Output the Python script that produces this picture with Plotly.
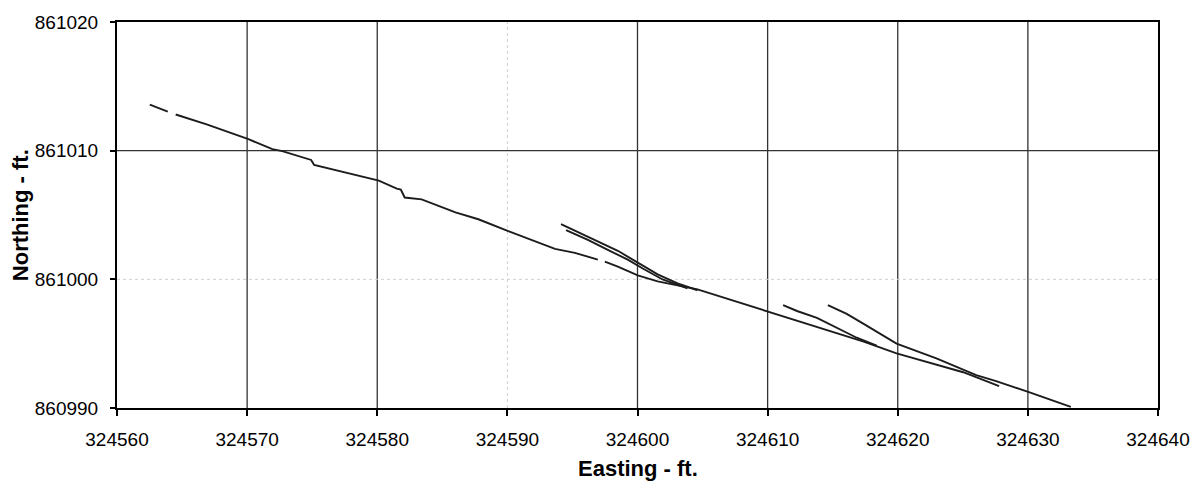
import plotly.graph_objects as go

# ---- axis ticks ----
x_ticks = [324560, 324570, 324580, 324590, 324600, 324610, 324620, 324630, 324640]
y_ticks = [860990, 861000, 861010, 861020]
x_faint_grid = [324590]
y_faint_grid = [861000]

# ---- survey track passes (Easting, Northing in ft) ----
pass_main_e = [324562.52, 324563.90, None, 324564.51, 324566.89, 324570.10, 324571.94, 324572.70,
               324574.54, 324574.92, 324575.15, 324577.06, 324580.12, 324581.50, 324581.81,
               324582.11, 324583.41, 324586.01, 324587.77, 324590.07, 324591.83, 324593.66,
               324595.19, 324596.95, None, 324597.49, 324598.49, 324600.02, 324601.55,
               324604.61, 324609.96, 324612.26, 324614.78, 324617.38, 324619.91, 324622.43,
               324625.03, 324627.79]
pass_main_n = [861013.58, 861013.04, None, 861012.81, 861012.04, 861010.89, 861010.12, 861009.97,
               861009.36, 861009.28, 861008.89, 861008.43, 861007.67, 861007.05, 861006.98,
               861006.36, 861006.21, 861005.21, 861004.67, 861003.75, 861003.06, 861002.37,
               861002.06, 861001.53, None, 861001.37, 861000.99, 861000.30, 860999.84,
               860999.22, 860997.54, 860996.77, 860996.00, 860995.16, 860994.24, 860993.55,
               860992.78, 860991.70]

pass_b1_e = [324594.12, 324595.42, 324596.95, 324598.49, 324600.02, 324601.55, 324603.08, 324604.61]
pass_b1_n = [861004.29, 861003.68, 861002.99, 861002.22, 861001.30, 861000.38, 860999.69, 860999.15]

pass_b2_e = [324594.51, 324596.19, 324597.72, 324599.25, 324600.40, 324601.93, 324603.84]
pass_b2_n = [861003.83, 861003.06, 861002.29, 861001.53, 861000.84, 860999.99, 860999.30]

pass_c_e = [324611.19, 324612.26, 324613.79, 324615.32, 324616.85, 324618.38]
pass_c_n = [860998.00, 860997.54, 860997.00, 860996.23, 860995.46, 860994.85]

pass_d_e = [324614.63, 324616.08, 324617.38, 324619.91, 324622.97, 324626.03, 324627.56,
            324630.08, 324633.30]
pass_d_n = [860998.00, 860997.31, 860996.54, 860995.00, 860993.85, 860992.55, 860992.09,
            860991.24, 860990.09]

passes = [(pass_main_e, pass_main_n), (pass_b1_e, pass_b1_n), (pass_b2_e, pass_b2_n),
          (pass_c_e, pass_c_n), (pass_d_e, pass_d_n)]

FONT = "Liberation Sans, Arial, Helvetica, sans-serif"

fig = go.Figure()
for e, n in passes:
    fig.add_trace(go.Scatter(x=e, y=n, mode="lines", connectgaps=False,
                             line=dict(color="#1c1c1c", width=1.9), showlegend=False,
                             hoverinfo="skip"))

shapes = []
for xv in x_ticks[1:-1]:
    faint = xv in x_faint_grid
    shapes.append(dict(type="line", xref="x", yref="paper", x0=xv, x1=xv, y0=0, y1=1,
                       layer="below",
                       line=dict(color="#d0d0d0" if faint else "#333333",
                                 width=1 if faint else 1.3,
                                 dash="dot" if faint else "solid")))
for yv in y_ticks[1:-1]:
    faint = yv in y_faint_grid
    shapes.append(dict(type="line", xref="paper", yref="y", x0=0, x1=1, y0=yv, y1=yv,
                       layer="below",
                       line=dict(color="#d0d0d0" if faint else "#333333",
                                 width=1 if faint else 1.3,
                                 dash="dot" if faint else "solid")))

fig.update_layout(
    width=1202, height=487,
    margin=dict(l=117, r=39, t=17, b=79),
    paper_bgcolor="white", plot_bgcolor="white",
    font=dict(family=FONT, color="black"),
    shapes=shapes,
    annotations=[
        dict(text="<b>Easting - ft.</b>", xref="paper", yref="paper", x=0.5, y=-0.158,
             xanchor="center", yanchor="middle", showarrow=False,
             font=dict(size=22, family=FONT, color="black")),
        dict(text="<b>Northing - ft.</b>", xref="paper", yref="paper", x=-0.093, y=0.5,
             xanchor="center", yanchor="middle", showarrow=False, textangle=-90,
             font=dict(size=22, family=FONT, color="black")),
    ],
)
fig.update_xaxes(range=[x_ticks[0], x_ticks[-1]], tickvals=x_ticks,
                 ticktext=[str(v) for v in x_ticks], showgrid=False, zeroline=False,
                 showline=True, mirror=True, linecolor="black", linewidth=2,
                 ticks="outside", ticklen=6, tickwidth=1.5, tickcolor="black",
                 tickfont=dict(size=19, family=FONT, color="black"), ticklabelstandoff=7)
fig.update_yaxes(range=[y_ticks[0], y_ticks[-1]], tickvals=y_ticks,
                 ticktext=[str(v) for v in y_ticks], showgrid=False, zeroline=False,
                 showline=True, mirror=True, linecolor="black", linewidth=2,
                 ticks="outside", ticklen=5, tickwidth=1.5, tickcolor="black",
                 tickfont=dict(size=19, family=FONT, color="black"), ticklabelstandoff=8)

fig.write_html("out.html")
